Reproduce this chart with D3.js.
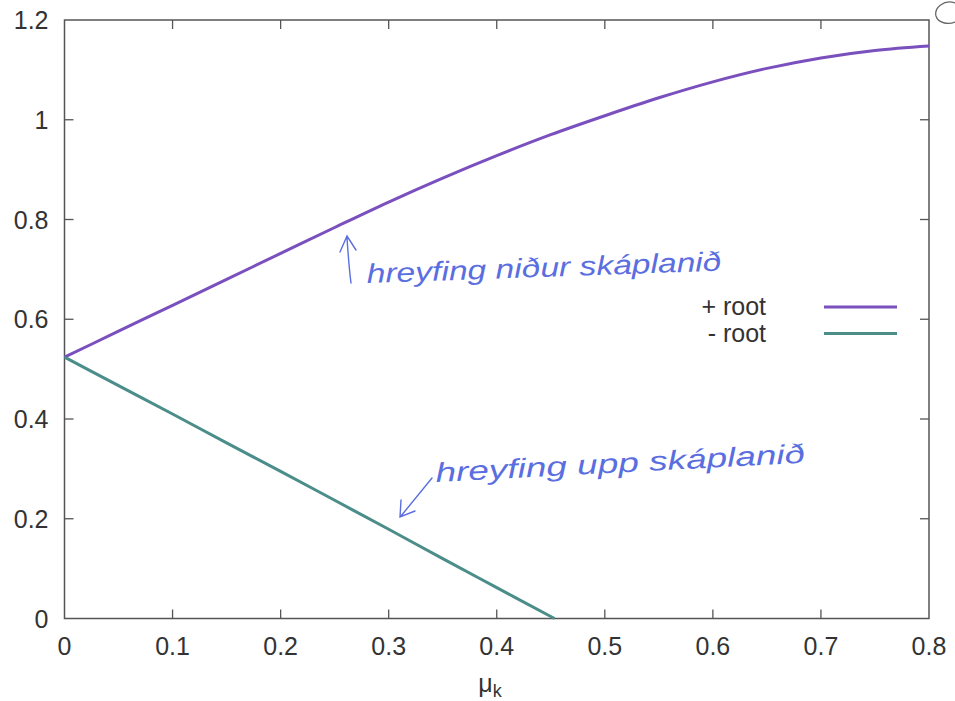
<!DOCTYPE html>
<html>
<head>
<meta charset="utf-8">
<script src="https://cdn.jsdelivr.net/npm/d3@7"></script>
<style>
  body { margin: 0; background: #fff; }
  svg { display: block; }
  text { font-family: "Liberation Sans", Arial, sans-serif; fill: #333; }
</style>
</head>
<body>
<svg width="955" height="701"></svg>
<script>
// values
var muValues = [0, 0.05, 0.1, 0.15, 0.2, 0.25, 0.3, 0.35, 0.4, 0.45, 0.5, 0.55, 0.6, 0.65, 0.7, 0.75, 0.8];
var plusRoot = [0.524, 0.576, 0.628, 0.680, 0.732, 0.784, 0.835, 0.883, 0.928, 0.970, 1.008, 1.044, 1.076, 1.103, 1.124, 1.139, 1.148];
var minusMu = [0, 0.05, 0.1, 0.15, 0.2, 0.25, 0.3, 0.35, 0.4, 0.45, 0.4535];
var minusRoot = [0.524, 0.467, 0.410, 0.352, 0.295, 0.237, 0.179, 0.120, 0.062, 0.004, 0];
var xTicks = [0, 0.1, 0.2, 0.3, 0.4, 0.5, 0.6, 0.7, 0.8];
var yTicks = [0, 0.2, 0.4, 0.6, 0.8, 1, 1.2];
var seriesNames = ["+ root", "- root"];
var notes = ["hreyfing niður skáplanið", "hreyfing upp skáplanið"];

var svg = d3.select("svg"),
    margin = {top: 20, right: 26, bottom: 82.5, left: 64.5},
    width = +svg.attr("width") - margin.left - margin.right,
    height = +svg.attr("height") - margin.top - margin.bottom;

var axisColor = "#555",
    colors = ["#7a4fbe", "#4b8d88"],
    ink = "#5a6ee0";

var x = d3.scaleLinear().domain([0, 0.8]).range([margin.left, margin.left + width]);
var y = d3.scaleLinear().domain([0, 1.2]).range([margin.top + height, margin.top]);

var fmt = function(d) { return d3.format("~g")(d); };

// frame
svg.append("rect")
    .attr("x", x(0))
    .attr("y", y(1.2))
    .attr("width", x(0.8) - x(0))
    .attr("height", y(0) - y(1.2))
    .attr("fill", "none")
    .attr("stroke", axisColor)
    .attr("stroke-width", 1.5);

// inward ticks on all four sides (gnuplot style)
var tickLen = 9;
svg.append("g").selectAll("line")
  .data(xTicks.slice(1, -1))
  .enter().append("line")
    .attr("x1", function(d) { return x(d); })
    .attr("x2", function(d) { return x(d); })
    .attr("y1", y(0))
    .attr("y2", y(0) - tickLen)
    .attr("stroke", axisColor)
    .attr("stroke-width", 1.3);
svg.append("g").selectAll("line")
  .data(xTicks.slice(1, -1))
  .enter().append("line")
    .attr("x1", function(d) { return x(d); })
    .attr("x2", function(d) { return x(d); })
    .attr("y1", y(1.2))
    .attr("y2", y(1.2) + tickLen)
    .attr("stroke", axisColor)
    .attr("stroke-width", 1.3);
svg.append("g").selectAll("line")
  .data(yTicks.slice(1, -1))
  .enter().append("line")
    .attr("x1", x(0))
    .attr("x2", x(0) + tickLen)
    .attr("y1", function(d) { return y(d); })
    .attr("y2", function(d) { return y(d); })
    .attr("stroke", axisColor)
    .attr("stroke-width", 1.3);
svg.append("g").selectAll("line")
  .data(yTicks.slice(1, -1))
  .enter().append("line")
    .attr("x1", x(0.8))
    .attr("x2", x(0.8) - tickLen)
    .attr("y1", function(d) { return y(d); })
    .attr("y2", function(d) { return y(d); })
    .attr("stroke", axisColor)
    .attr("stroke-width", 1.3);

// tick labels
svg.append("g").selectAll("text")
  .data(xTicks)
  .enter().append("text")
    .attr("x", function(d) { return x(d); })
    .attr("y", y(0) + 36)
    .attr("text-anchor", "middle")
    .attr("font-size", 25)
    .text(fmt);
svg.append("g").selectAll("text")
  .data(yTicks)
  .enter().append("text")
    .attr("x", x(0) - 16)
    .attr("y", function(d) { return y(d) + 9; })
    .attr("text-anchor", "end")
    .attr("font-size", 25)
    .text(fmt);

// axis title mu_k
var xt = svg.append("text")
    .attr("x", 490)
    .attr("y", 692)
    .attr("text-anchor", "middle")
    .attr("font-size", 25);
xt.append("tspan").text("μ");
xt.append("tspan").attr("font-size", 18).attr("dy", 5).text("k");

// curves
var line = d3.line()
    .x(function(d) { return x(d[0]); })
    .y(function(d) { return y(d[1]); })
    .curve(d3.curveMonotoneX);

var series = [
  d3.zip(muValues, plusRoot),
  d3.zip(minusMu, minusRoot)
];

svg.append("g").selectAll("path")
  .data(series)
  .enter().append("path")
    .attr("d", line)
    .attr("fill", "none")
    .attr("stroke", function(d, i) { return colors[i]; })
    .attr("stroke-width", 3);

// legend
var legend = svg.append("g").selectAll("g")
  .data(seriesNames)
  .enter().append("g")
    .attr("transform", function(d, i) { return "translate(0," + (307 + i * 26.5) + ")"; });
legend.append("text")
    .attr("x", 766)
    .attr("y", 8)
    .attr("text-anchor", "end")
    .attr("font-size", 25)
    .text(function(d) { return d; });
legend.append("line")
    .attr("x1", 824)
    .attr("x2", 897)
    .attr("stroke", function(d, i) { return colors[i]; })
    .attr("stroke-width", 3);

// handwritten notes
var hand = svg.append("g")
    .attr("fill", "none")
    .attr("stroke", ink)
    .attr("stroke-width", 1.4)
    .attr("stroke-linecap", "round");

hand.append("path").attr("d", "M351,283 C349,268 348,252 347,238 M340,252 L347,236 L356,250");
hand.append("path").attr("d", "M432,478 L401,516 M401,500 L400,517 L415,511");

svg.append("text")
    .attr("x", 367)
    .attr("y", 283)
    .attr("font-size", 27)
    .attr("font-style", "italic")
    .attr("font-family", "'DejaVu Serif', serif")
    .attr("textLength", 355)
    .attr("lengthAdjust", "spacingAndGlyphs")
    .attr("transform", "rotate(-2,367,283)")
    .style("fill", ink)
    .text(notes[0]);

svg.append("text")
    .attr("x", 436)
    .attr("y", 482)
    .attr("font-size", 27)
    .attr("font-style", "italic")
    .attr("font-family", "'DejaVu Serif', serif")
    .attr("textLength", 370)
    .attr("lengthAdjust", "spacingAndGlyphs")
    .attr("transform", "rotate(-3,436,482)")
    .style("fill", ink)
    .text(notes[1]);

// margin scribble at top right
svg.append("path")
    .attr("d", "M955,3 C944,-1 934,8 936,16 C938,23 948,25 955,22")
    .attr("fill", "none")
    .attr("stroke", "#666")
    .attr("stroke-width", 1.3);
</script>
</body>
</html>
